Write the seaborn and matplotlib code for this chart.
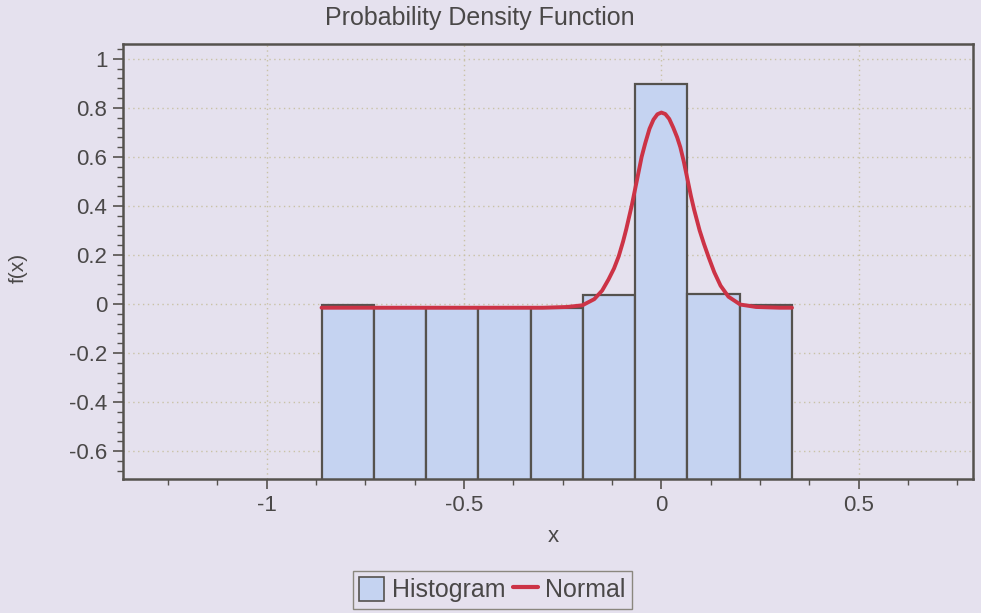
import numpy as np
import pandas as pd
import matplotlib
matplotlib.use("Agg")
import matplotlib.pyplot as plt
from matplotlib.ticker import MultipleLocator, FuncFormatter
from matplotlib.patches import Patch
from matplotlib.lines import Line2D
import seaborn as sns

# ---- data ----
bin_edges = [-0.861, -0.729, -0.596, -0.464, -0.331, -0.199, -0.066, 0.066, 0.199, 0.331]
bin_heights = [-0.004, -0.015, -0.015, -0.015, -0.015, 0.035, 0.898, 0.040, -0.005]

curve_x = [-0.861, -0.60, -0.40, -0.30, -0.24, -0.20, -0.17, -0.15, -0.134, -0.12, -0.108,
           -0.097, -0.089, -0.075, -0.060, -0.050, -0.041, -0.030, -0.020, -0.010, 0.000,
           0.010, 0.020, 0.030, 0.040, 0.048, 0.057, 0.066, 0.075, 0.083, 0.097, 0.108,
           0.120, 0.134, 0.150, 0.170, 0.200, 0.240, 0.300, 0.331]
curve_y = [-0.015, -0.015, -0.015, -0.015, -0.012, -0.005, 0.020, 0.055, 0.100, 0.145, 0.195,
           0.255, 0.305, 0.402, 0.520, 0.600, 0.655, 0.715, 0.752, 0.774, 0.781,
           0.775, 0.755, 0.720, 0.680, 0.640, 0.580, 0.510, 0.440, 0.385, 0.300, 0.245,
           0.190, 0.130, 0.075, 0.030, -0.002, -0.012, -0.015, -0.015]

title = "Probability Density Function"
x_label = "x"
y_label = "f(x)"
legend_labels = ["Histogram", "Normal"]

# ---- style ----
bg = "#e5e1ee"
bar_fill = "#c5d3f1"
edge_col = "#55524e"
line_col = "#cc3346"
text_col = "#4a4848"
grid_col = "#c9c2a6"

sns.set_theme(style="ticks")
plt.rcParams["font.family"] = ["Liberation Sans", "DejaVu Sans"]
plt.rcParams["text.color"] = text_col
plt.rcParams["axes.labelcolor"] = text_col
plt.rcParams["xtick.color"] = edge_col
plt.rcParams["ytick.color"] = edge_col

fig = plt.figure(figsize=(9.81, 6.13), dpi=100, facecolor=bg)
ax = fig.add_axes([0.125, 0.218, 0.867, 0.71])
ax.set_facecolor(bg)

ylo, yhi = -0.715, 1.06
ax.set_xlim(-1.365, 0.79)
ax.set_ylim(ylo, yhi)

# histogram bars (drawn from the bottom of the plot area)
edges = np.array(bin_edges)
heights = np.array(bin_heights)
base = ylo - 0.05
ax.bar(edges[:-1], heights - base, width=np.diff(edges), bottom=base, align="edge",
       color=bar_fill, edgecolor=edge_col, linewidth=1.6, zorder=2)

# normal curve
df = pd.DataFrame({"x": curve_x, "y": curve_y})
sns.lineplot(data=df, x="x", y="y", ax=ax, color=line_col, linewidth=2.8, zorder=3,
             sort=False, estimator=None)

# grid
ax.grid(True, which="major", linestyle=(0, (1, 2.5)), color=grid_col, linewidth=1.0, zorder=0)

ax.xaxis.set_major_locator(MultipleLocator(0.5))
ax.xaxis.set_minor_locator(MultipleLocator(0.125))
ax.yaxis.set_major_locator(MultipleLocator(0.2))
ax.yaxis.set_minor_locator(MultipleLocator(0.04))

def fmt(v, pos):
    s = ("%.1f" % v).rstrip("0").rstrip(".")
    if s in ("-0", ""):
        s = "0"
    return s

ax.xaxis.set_major_formatter(FuncFormatter(fmt))
ax.yaxis.set_major_formatter(FuncFormatter(fmt))
ax.tick_params(axis="both", which="major", length=7, width=1.2, labelsize=16,
               labelcolor=text_col, direction="out", pad=4)
ax.tick_params(axis="both", which="minor", length=4, width=1.0, direction="out")

for s in ax.spines.values():
    s.set_visible(True)
    s.set_color(edge_col)
    s.set_linewidth(1.8)

ax.set_xlabel("")
ax.set_ylabel("")
fig.text(0.564, 0.124, x_label, ha="center", va="center", fontsize=16, color=text_col)
fig.text(0.019, 0.563, y_label, ha="center", va="center", rotation=90, fontsize=15, color=text_col)
fig.text(0.489, 0.970, title, ha="center", va="center", fontsize=18, color=text_col)

handles = [Patch(facecolor=bar_fill, edgecolor=edge_col, linewidth=1.2),
           Line2D([0], [0], color=line_col, linewidth=3)]
leg = fig.legend(handles, legend_labels, loc="center", bbox_to_anchor=(0.502, 0.038),
                 ncol=2, fontsize=18, frameon=True, fancybox=False, framealpha=1,
                 handlelength=1.0, handleheight=1.1, handletextpad=0.3, columnspacing=0.3,
                 borderpad=0.25, borderaxespad=0.0, labelcolor=text_col)
leg.get_frame().set_facecolor(bg)
leg.get_frame().set_edgecolor("#8a877e")
leg.get_frame().set_linewidth(1.0)

fig.savefig("out.png", dpi=100, facecolor=bg)
